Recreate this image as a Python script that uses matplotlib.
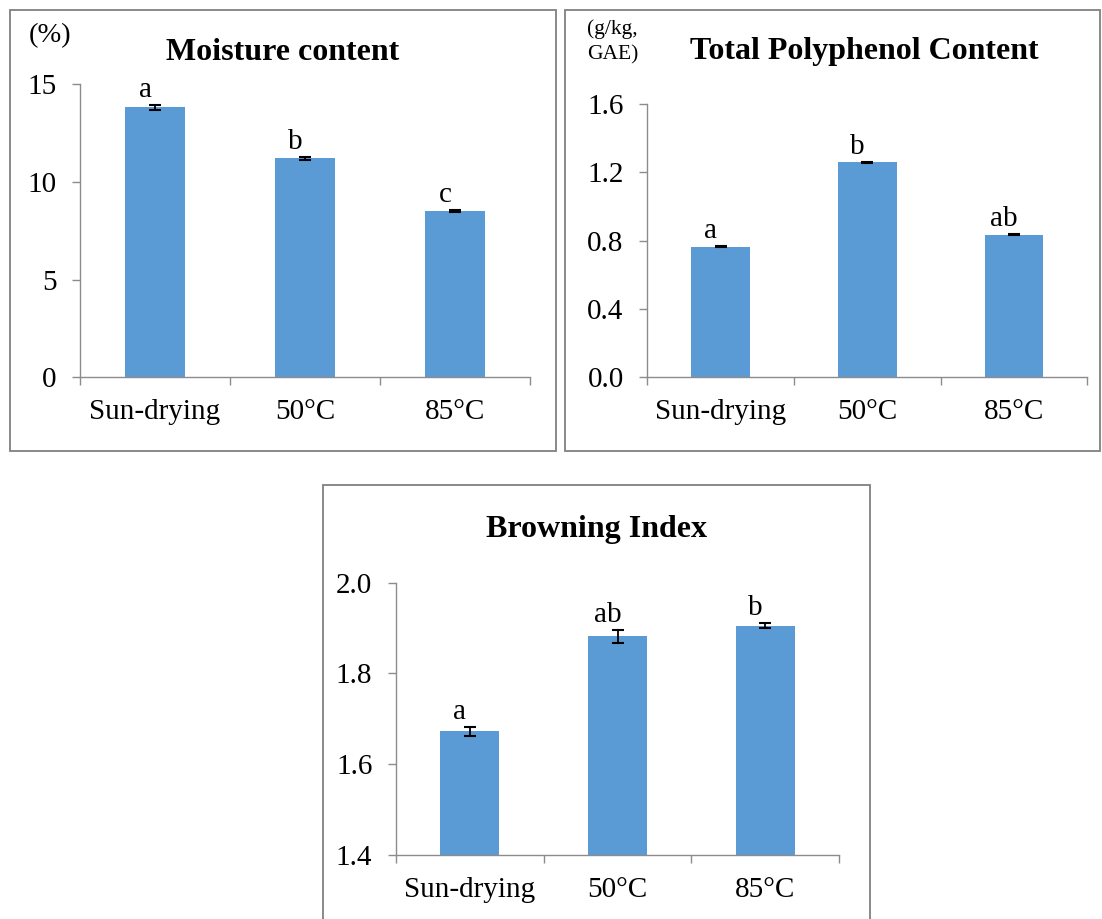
import matplotlib.pyplot as plt
from matplotlib.patches import Rectangle
from matplotlib.ticker import FormatStrFormatter

# canvas size in pixels (dpi 100)
W, H = 1102, 919

treatments = ['Sun-drying', '50°C', '85°C']

moisture = [13.8, 11.2, 8.5]
moisture_err = [0.12, 0.09, 0.05]
moisture_letters = ['a', 'b', 'c']
moisture_ticks = [0, 5, 10, 15]

polyphenol = [0.763, 1.26, 0.835]
polyphenol_err = [0.003, 0.002, 0.003]
polyphenol_letters = ['a', 'b', 'ab']
polyphenol_ticks = [0.0, 0.4, 0.8, 1.2, 1.6]

browning = [1.673, 1.882, 1.905]
browning_err = [0.01, 0.014, 0.0055]
browning_letters = ['a', 'ab', 'b']
browning_ticks = [1.4, 1.6, 1.8, 2.0]

BAR = '#5B9BD5'
AXIS = '#8c8c8c'
FRAME = '#808080'
FS = 21

plt.rcParams['font.family'] = ['Liberation Serif', 'DejaVu Serif']

fig = plt.figure(figsize=(W / 100, H / 100), dpi=100)


# helpers working in pixel coords (origin top-left, like the picture)
def px_axes(left, top, right, bottom):
    return fig.add_axes([left / W, 1 - bottom / H, (right - left) / W, (bottom - top) / H])


def frame(left, top, right, bottom):
    fig.add_artist(Rectangle((left / W, 1 - bottom / H), (right - left) / W, (bottom - top) / H,
                             transform=fig.transFigure, fill=False, edgecolor=FRAME, lw=1.3))


def px_text(x, y, s, **kw):
    fig.text(x / W, 1 - y / H, s, va='baseline', **kw)


def bar_panel(ax, values, errs, letters, yticks, fmt):
    x = list(range(len(treatments)))
    ax.bar(x, values, width=0.4, color=BAR, zorder=2)
    ax.errorbar(x, values, yerr=errs, fmt='none', ecolor='black', elinewidth=1.3,
                capsize=4.5, capthick=1.5, zorder=3)
    ax.set_xlim(-0.5, 2.5)
    ax.set_ylim(yticks[0], yticks[-1])
    ax.set_yticks(yticks)
    ax.yaxis.set_major_formatter(FormatStrFormatter(fmt))
    ax.set_xticks(x)
    ax.set_xticklabels(treatments)
    # excel style: tick marks between categories
    ax.set_xticks([-0.5, 0.5, 1.5, 2.5], minor=True)
    ax.tick_params(axis='x', which='major', length=0, pad=15.5, labelsize=FS)
    ax.tick_params(axis='x', which='minor', length=6, width=1, color=AXIS, direction='out')
    ax.tick_params(axis='y', length=6, width=1, color=AXIS, pad=11, labelsize=FS)
    for s in ['top', 'right']:
        ax.spines[s].set_visible(False)
    for s in ['left', 'bottom']:
        ax.spines[s].set_color(AXIS)
        ax.spines[s].set_linewidth(1.0)
    # significance letters above error bars
    for i, (v, e, t) in enumerate(zip(values, errs, letters)):
        ax.annotate(t, (i, v + e), xytext=(-10, 8), textcoords='offset pixels',
                    ha='center', va='baseline', fontsize=FS, annotation_clip=False)


# panel borders
frame(10, 10, 556, 451)
frame(565, 10, 1100, 451)
frame(323, 485, 869.5, 930)

# Moisture content
ax1 = px_axes(80, 84, 530, 377.3)
bar_panel(ax1, moisture, moisture_err, moisture_letters, moisture_ticks, '%d')
px_text(283, 59.5, 'Moisture content', ha='center', fontsize=23, fontweight='bold')
px_text(28.5, 42.5, '(%)', ha='left', fontsize=20.5)

# Total polyphenol
ax2 = px_axes(647.3, 104.3, 1087.3, 377)
bar_panel(ax2, polyphenol, polyphenol_err, polyphenol_letters, polyphenol_ticks, '%.1f')
px_text(864.5, 59.5, 'Total Polyphenol Content', ha='center', fontsize=23, fontweight='bold')
px_text(586.7, 34, '(g/kg,', ha='left', fontsize=15.5)
px_text(586.7, 59.3, 'GAE)', ha='left', fontsize=15.5)

# Browning index
ax3 = px_axes(396, 582.7, 839, 855)
bar_panel(ax3, browning, browning_err, browning_letters, browning_ticks, '%.1f')
px_text(596, 537.5, 'Browning Index', ha='center', fontsize=23, fontweight='bold')

fig.savefig('out.png', dpi=100)
